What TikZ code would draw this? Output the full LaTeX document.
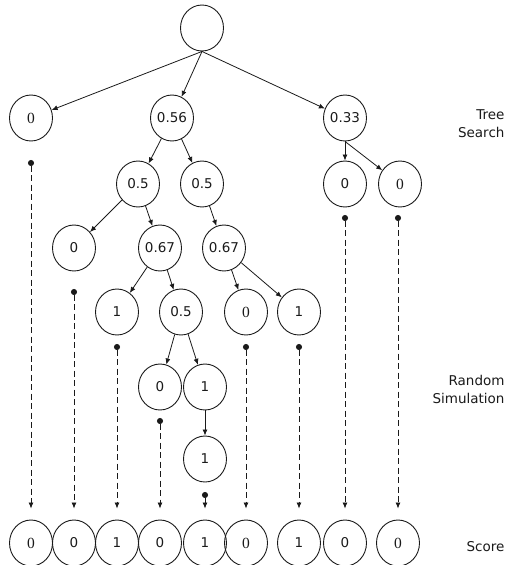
\documentclass[tikz,border=0pt]{standalone}
\usepackage{fontspec}
\setmainfont{DejaVu Sans}
\newfontfamily\zserif{Liberation Serif}
\usetikzlibrary{shapes.geometric,arrows.meta}
\definecolor{ink}{HTML}{1A1A1A}
\begin{document}
\begin{tikzpicture}[x=1pt,y=-1pt,
  nd/.style={draw=ink,line width=0.9pt,ellipse,minimum width=43pt,minimum height=46pt,inner sep=0pt,font=\fontsize{13.5}{15}\selectfont,text=ink},
  sz/.style={nd,font=\fontsize{15.5}{17}\zserif},
  arr/.style={draw=ink,line width=0.8pt,-{Latex[length=6pt,width=5pt]}},
  dline/.style={draw=ink,line width=0.8pt,dash pattern=on 6pt off 3.5pt,{Circle[length=6pt]}-{Latex[length=6pt,width=5pt]}},
  lbl/.style={anchor=east,align=right,font=\fontsize{13.5}{18}\selectfont,text=ink}]
\useasboundingbox (0,0) rectangle (511,565);
% tree
\node[nd] (root) at (202,28) {};
\node[sz] (a) at (31,118) {0};
\node[nd] (b) at (172,118) {0.56};
\node[nd] (c) at (345,118) {0.33};
\node[nd] (b1) at (138,184) {0.5};
\node[nd] (b2) at (202,184) {0.5};
\node[nd] (c1) at (345,184) {0};
\node[sz] (c2) at (400,184) {0};
\node[nd] (b11) at (74,248) {0};
\node[nd] (b12) at (160,248) {0.67};
\node[nd] (b21) at (224,248) {0.67};
\node[nd] (b121) at (117,312) {1};
\node[nd] (b122) at (181,312) {0.5};
\node[sz] (b211) at (246,312) {0};
\node[nd] (b212) at (299,312) {1};
\node[nd] (e1) at (160,387) {0};
\node[nd] (e2) at (205,387) {1};
\node[nd] (f) at (205,459) {1};
% scores
\node[sz] (s1) at (31,543) {0};
\node[nd] (s2) at (74,543) {0};
\node[nd] (s3) at (117,543) {1};
\node[nd] (s4) at (160,543) {0};
\node[nd] (s5) at (205,543) {1};
\node[sz] (s6) at (246,543) {0};
\node[nd] (s7) at (299,543) {1};
\node[nd] (s8) at (345,543) {0};
\node[sz] (s9) at (398,543) {0};
% labels
\node[lbl] (t1) at (508,124) {Tree\\Search};
\node[lbl] (t2) at (508,389) {Random\\Simulation};
\node[lbl] (t3) at (508,547) {Score};
% tree edges
\draw[arr] (root.south) -- (a);
\draw[arr] (root.south) -- (b);
\draw[arr] (root.south) -- (c);
\draw[arr] (b) -- (b1);
\draw[arr] (b) -- (b2);
\draw[arr] (c.south) -- (c1);
\draw[arr] (c.south) -- (c2);
\draw[arr] (b1) -- (b11);
\draw[arr] (b1) -- (b12);
\draw[arr] (b2) -- (b21);
\draw[arr] (b12) -- (b121);
\draw[arr] (b12) -- (b122);
\draw[arr] (b21) -- (b211);
\draw[arr] (b21) -- (b212);
\draw[arr] (b122) -- (e1);
\draw[arr] (b122) -- (e2);
\draw[arr] (e2) -- (f);
% simulation dots
\coordinate (d1) at (31,160);
\coordinate (d2) at (74,289);
\coordinate (d3) at (117,344);
\coordinate (d4) at (160,418);
\coordinate (d5) at (205,492);
\coordinate (d6) at (246,344);
\coordinate (d7) at (299,344);
\coordinate (d8) at (345,215);
\coordinate (d9) at (398,215);
\foreach \i in {1,...,9}{
  \draw[dline] (d\i) -- ([yshift=11pt]s\i.north);
}
\end{tikzpicture}
\end{document}
